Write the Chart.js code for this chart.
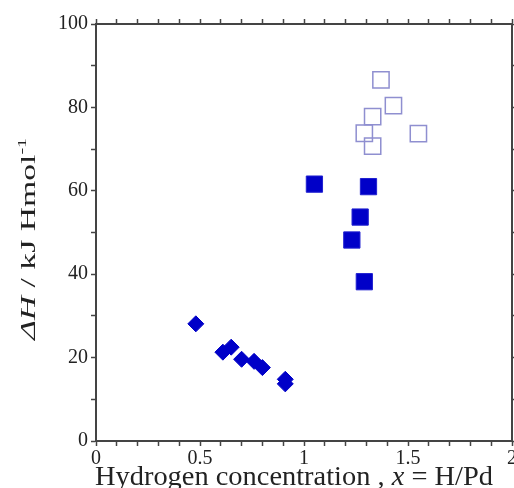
<!DOCTYPE html>
<html>
<head>
<meta charset="utf-8">
<script src="https://cdn.jsdelivr.net/npm/chart.js@4"></script>
<style>
  html, body { margin: 0; padding: 0; background: #fff; }
</style>
</head>
<body>
<canvas id="chart" width="514" height="488"></canvas>
<script>
// diamonds (low x)
const diamondX = [0.48, 0.61, 0.65, 0.70, 0.76, 0.80, 0.91, 0.91];
const diamondY = [28.1, 21.3, 22.5, 19.6, 19.1, 17.6, 14.8, 13.7];
// filled squares
const filledX = [1.05, 1.31, 1.27, 1.23, 1.29];
const filledY = [61.6, 61.0, 53.7, 48.2, 38.2];
// open squares
const openX = [1.37, 1.43, 1.33, 1.29, 1.33, 1.55];
const openY = [86.6, 80.4, 77.8, 73.8, 70.7, 73.7];

const xTicks = [0, 0.5, 1, 1.5, 2];
const yTicks = [0, 20, 40, 60, 80, 100];

const serif = '"Liberation Serif", "DejaVu Serif", serif';
const axisColor = '#444';
const textColor = '#222';

function pts(xs, ys) {
    return xs.map((x, i) => ({ x: x, y: ys[i] }));
}

function isMajor(v, list) {
    return list.some(t => Math.abs(t - v) < 1e-6);
}

// draws mixed-style axis titles (italic symbols, superscript), stretched to the target length
const titlePlugin = {
    id: 'titles',
    afterDraw(chart) {
        const ctx = chart.ctx;
        const area = chart.chartArea;

        function drawPieces(pieces, size, length, cx, baseline) {
            const font = (p) => (p.italic ? 'italic ' : '') + (p.sup ? Math.round(size * 0.6) : size) + 'px ' + serif;
            let total = 0;
            pieces.forEach(p => { ctx.font = font(p); p.w = ctx.measureText(p.t).width; total += p.w; });
            const k = length / total;
            ctx.save();
            ctx.translate(cx, baseline);
            ctx.scale(k, 1);
            let x = -total / 2;
            pieces.forEach(p => {
                ctx.font = font(p);
                ctx.fillText(p.t, x, p.sup ? -size * 0.42 : 0);
                x += p.w;
            });
            ctx.restore();
        }

        ctx.save();
        ctx.fillStyle = textColor;
        ctx.textBaseline = 'alphabetic';
        ctx.textAlign = 'left';

        drawPieces([
            { t: 'Hydrogen concentration , ' },
            { t: 'x', italic: true },
            { t: ' = H/Pd' }
        ], 27, 398, 294, 485);

        ctx.translate(35, 239);
        ctx.rotate(-Math.PI / 2);
        drawPieces([
            { t: 'ΔH', italic: true },
            { t: ' / kJ Hmol' },
            { t: '-1', sup: true }
        ], 22, 202, 0, 0);
        ctx.restore();
    }
};

const gridOpts = {
    drawOnChartArea: false,
    drawTicks: true,
    tickLength: 5,
    tickWidth: 1.5,
    tickColor: axisColor
};
const borderOpts = { color: axisColor, width: 2 };
const tickFont = { family: serif, size: 20 };

new Chart(document.getElementById('chart').getContext('2d'), {
    type: 'scatter',
    data: {
        datasets: [
            {
                data: pts(diamondX, diamondY),
                pointStyle: 'rectRot',
                pointRadius: 8,
                backgroundColor: '#0000c8',
                borderColor: '#0000c8',
                borderWidth: 1
            },
            {
                data: pts(filledX, filledY),
                pointStyle: 'rect',
                pointRadius: 11.5,
                backgroundColor: '#0000c8',
                borderColor: '#2020d0',
                borderWidth: 1
            },
            {
                data: pts(openX, openY),
                pointStyle: 'rect',
                pointRadius: 11.5,
                backgroundColor: 'rgba(255,255,255,0)',
                borderColor: '#8f8fd0',
                borderWidth: 1.5
            }
        ]
    },
    options: {
        responsive: false,
        animation: false,
        devicePixelRatio: 1,
        layout: { padding: 0, autoPadding: false },
        plugins: { legend: { display: false }, tooltip: { enabled: false } },
        scales: {
            x: {
                type: 'linear',
                position: 'bottom',
                min: 0,
                max: 2,
                grid: gridOpts,
                border: borderOpts,
                ticks: {
                    stepSize: 0.1,
                    autoSkip: false,
                    maxRotation: 0,
                    padding: 1,
                    color: textColor,
                    font: tickFont,
                    callback: (v) => isMajor(v, xTicks) ? String(Math.round(v * 2) / 2) : ''
                },
                afterFit(s) { s.height = 47; s.paddingLeft = 0; s.paddingRight = 0; }
            },
            x2: {
                type: 'linear',
                position: 'top',
                min: 0,
                max: 2,
                grid: gridOpts,
                border: borderOpts,
                ticks: { stepSize: 0.1, autoSkip: false, display: false },
                afterFit(s) { s.height = 24; s.paddingLeft = 0; s.paddingRight = 0; }
            },
            y: {
                type: 'linear',
                position: 'left',
                min: 0,
                max: 100,
                grid: gridOpts,
                border: borderOpts,
                ticks: {
                    stepSize: 10,
                    autoSkip: false,
                    padding: 3,
                    color: textColor,
                    font: tickFont,
                    callback: (v) => isMajor(v, yTicks) ? String(v) : ''
                },
                afterFit(s) { s.width = 96; s.paddingTop = 0; s.paddingBottom = 0; }
            },
            y2: {
                type: 'linear',
                position: 'right',
                min: 0,
                max: 100,
                grid: gridOpts,
                border: borderOpts,
                ticks: { stepSize: 10, autoSkip: false, display: false },
                afterFit(s) { s.width = 2; s.paddingTop = 0; s.paddingBottom = 0; }
            }
        }
    },
    plugins: [titlePlugin]
});
</script>
</body>
</html>
